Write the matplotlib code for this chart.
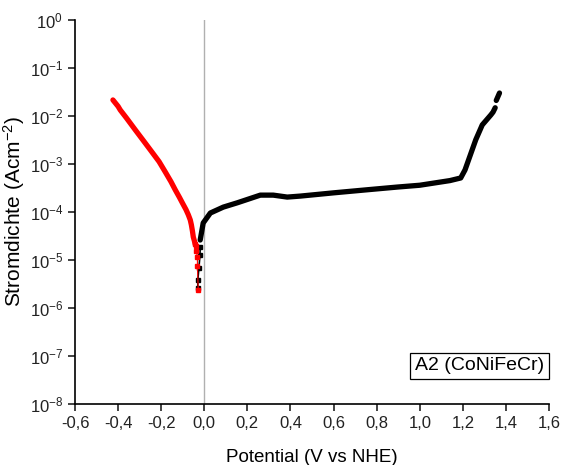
import numpy as np
import matplotlib.pyplot as plt
from matplotlib.ticker import FixedLocator, FixedFormatter, NullLocator

plt.rcParams['font.family'] = ['Liberation Sans', 'DejaVu Sans']
plt.rcParams['mathtext.fontset'] = 'custom'
plt.rcParams['mathtext.rm'] = 'Liberation Sans'
plt.rcParams['mathtext.it'] = 'Liberation Sans'

# kathodischer Ast (rot)
red_v = [-0.424, -0.40, -0.39, -0.36, -0.32, -0.28, -0.25, -0.21, -0.181, -0.155,
         -0.135, -0.115, -0.102, -0.085, -0.074, -0.065, -0.060, -0.055, -0.051,
         -0.046, -0.042]
red_i = [2.15e-2, 1.58e-2, 1.33e-2, 8.9e-3, 5.1e-3, 2.95e-3, 1.95e-3, 1.12e-3, 6.8e-4,
         4.3e-4, 2.9e-4, 2.0e-4, 1.55e-4, 1.12e-4, 8.7e-5, 6.8e-5, 5.4e-5, 4.0e-5,
         3.0e-5, 2.5e-5, 2.1e-5]
# einzelne Punkte am Ruhepotential
red_tip_v = [-0.042, -0.037, -0.037, -0.032, -0.032, -0.028]
red_tip_i = [2.1e-5, 1.95e-5, 1.55e-5, 1.15e-5, 7.5e-6, 2.4e-6]

# anodischer Ast (schwarz)
blk_tip_v = [-0.030, -0.030, -0.025, -0.020, -0.019]
blk_tip_i = [2.6e-6, 3.8e-6, 6.8e-6, 1.26e-5, 1.86e-5]
blk_v = [-0.019, -0.005, 0.028, 0.088, 0.153, 0.26, 0.32, 0.385, 0.446, 0.60, 0.757,
         0.896, 1.00, 1.14, 1.19, 1.21, 1.235, 1.26, 1.29, 1.33, 1.34, 1.35]
blk_i = [2.6e-5, 5.9e-5, 9.5e-5, 1.26e-4, 1.55e-4, 2.24e-4, 2.24e-4, 2.04e-4, 2.14e-4,
         2.5e-4, 2.9e-4, 3.3e-4, 3.6e-4, 4.5e-4, 5.1e-4, 7.5e-4, 1.55e-3, 3.2e-3,
         6.5e-3, 1.05e-2, 1.2e-2, 1.48e-2]
blk_end_v = [1.355, 1.37]
blk_end_i = [2.1e-2, 3.0e-2]

x_ticks = [-0.6, -0.4, -0.2, 0.0, 0.2, 0.4, 0.6, 0.8, 1.0, 1.2, 1.4, 1.6]
x_labels = ['-0,6', '-0,4', '-0,2', '0,0', '0,2', '0,4', '0,6', '0,8', '1,0', '1,2', '1,4', '1,6']
y_ticks = [1e-8, 1e-7, 1e-6, 1e-5, 1e-4, 1e-3, 1e-2, 1e-1, 1e0]
y_labels = ['$10^{-8}$', '$10^{-7}$', '$10^{-6}$', '$10^{-5}$', '$10^{-4}$',
            '$10^{-3}$', '$10^{-2}$', '$10^{-1}$', '$10^{0}$']

fig = plt.figure(figsize=(5.61, 4.65), dpi=100)
ax = fig.add_axes([0.1337, 0.1312, 0.845, 0.826])

ax.axvline(0.0, color='#b0b0b0', lw=1.0, zorder=1)

ax.plot(red_v, red_i, color='red', lw=3.8, solid_capstyle='round', zorder=3)
ax.plot(red_tip_v, red_tip_i, color='red', lw=0.8, marker='s', ms=3.5, zorder=3)
ax.plot(blk_tip_v, blk_tip_i, color='black', lw=1.2, marker='s', ms=3, zorder=2)
ax.plot(blk_v, blk_i, color='black', lw=3.8, solid_capstyle='round', zorder=2)
ax.plot(blk_end_v, blk_end_i, color='black', lw=3.8, solid_capstyle='round', zorder=2)

ax.set_yscale('log')
ax.set_xlim(-0.6, 1.6)
ax.set_ylim(1e-8, 1e0)
ax.xaxis.set_major_locator(FixedLocator(x_ticks))
ax.xaxis.set_major_formatter(FixedFormatter(x_labels))
ax.yaxis.set_major_locator(FixedLocator(y_ticks))
ax.yaxis.set_major_formatter(FixedFormatter(y_labels))
ax.yaxis.set_minor_locator(NullLocator())

for s in ['top', 'right']:
    ax.spines[s].set_visible(False)
for s in ['left', 'bottom']:
    ax.spines[s].set_linewidth(1.2)
ax.tick_params(direction='out', length=5, width=1.2, labelsize=12, colors='#222222')

ax.set_xlabel('Potential (V vs NHE)', fontsize=13.5, labelpad=13)
ax.set_ylabel('Stromdichte (Acm$^{-2}$)', fontsize=15, labelpad=2)

ax.text(0.99, 0.099, 'A2 (CoNiFeCr)', transform=ax.transAxes, ha='right', va='center',
        fontsize=14, bbox=dict(boxstyle='square,pad=0.25', fc='white', ec='black', lw=0.9))

fig.savefig('out.png', dpi=100)
